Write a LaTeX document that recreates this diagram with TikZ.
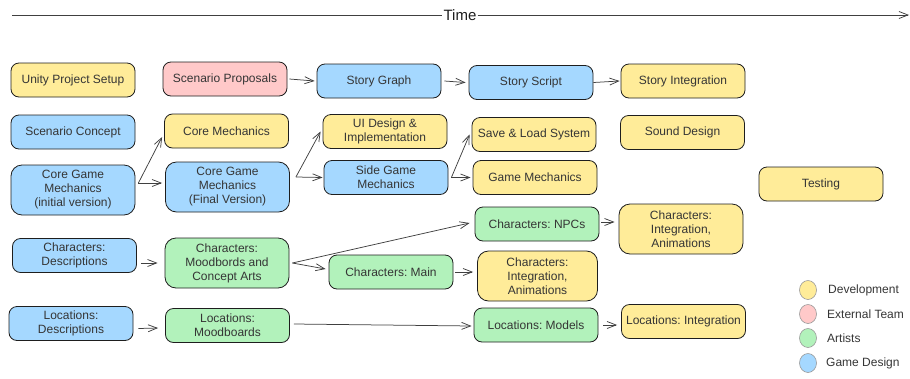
\documentclass[tikz,border=0pt]{standalone}
\usepackage{fontspec}
\setmainfont{Liberation Sans}
\usetikzlibrary{arrows.meta,shapes.geometric}
\frenchspacing

\definecolor{ink}{HTML}{1E1E1E}
\definecolor{devfill}{HTML}{FFEC99}
\definecolor{extfill}{HTML}{FFC9C9}
\definecolor{artfill}{HTML}{B2F2BB}
\definecolor{gdfill}{HTML}{A5D8FF}

\tikzset{
  task/.style={draw=ink, line width=0.8pt, rounded corners=8pt,
    minimum width=124pt, minimum height=34pt, inner sep=1pt,
    align=center, text=ink!90, font=\fontsize{12}{14}\selectfont},
  tall/.style={task, minimum height=50pt, rounded corners=11pt},
  dev/.style={fill=devfill},
  ext/.style={fill=extfill},
  art/.style={fill=artfill},
  gd/.style={fill=gdfill},
  link/.style={draw=ink!85, line width=0.75pt,
    -{Straight Barb[length=9pt,width=7pt,line width=0.75pt]}},
  swatch/.style={ellipse, draw=black!40, line width=0.6pt,
    minimum width=17pt, minimum height=19pt, inner sep=0pt},
  key/.style={anchor=west, text=ink!90, inner sep=0pt,
    font=\fontsize{12}{14}\selectfont},
}

\begin{document}
\begin{tikzpicture}[x=1pt, y=-1pt]
\useasboundingbox (0,0) rectangle (910,378);

% time axis
\node[text=ink, font=\fontsize{15}{18}\selectfont, inner sep=1pt] (time) at (460,15) {Time};
\coordinate (tstart) at (12,15);
\coordinate (tend) at (909,15);
\draw[ink!85, line width=0.75pt] (tstart) -- (time.west);
\draw[ink!85, line width=0.75pt, -{Straight Barb[length=9pt,width=7pt,line width=0.75pt]}] (time.east) -- (tend);

% first column
\node[task, dev] (unity)   at (73,80)    {Unity Project Setup};
\node[task, gd]  (concept) at (73,132)   {Scenario Concept};
\node[tall, gd]  (cgminit) at (73,190)   {Core Game\\Mechanics\\(initial version)};
\node[task, gd]  (chardesc) at (74.5,255.5) {Characters:\\Descriptions};
\node[task, gd]  (locdesc) at (71,323.5) {Locations:\\Descriptions};

% second column
\node[task, ext] (proposals) at (225,79)   {Scenario Proposals};
\node[task, dev] (coremech)  at (226.5,131) {Core Mechanics};
\node[tall, gd]  (cgmfinal)  at (227.5,187) {Core Game\\Mechanics\\(Final Version)};
\node[tall, art] (charmood)  at (227,263)   {Characters:\\Moodbords and\\Concept Arts};
\node[task, art] (locmood)   at (227.5,325.5) {Locations:\\Moodboards};

% third column
\node[task, gd]  (graph)    at (379,81)    {Story Graph};
\node[task, dev] (ui)       at (385,131.5) {UI Design \&\\Implementation};
\node[task, gd]  (side)     at (386,177.5) {Side Game\\Mechanics};
\node[task, art] (charmain) at (391,272)   {Characters: Main};

% fourth column
\node[task, gd]  (script)    at (531,82.5)  {Story Script};
\node[task, dev] (saveload)  at (534,134.5) {Save \& Load System};
\node[task, dev] (gamemech)  at (535,177.5) {Game Mechanics};
\node[task, art] (npcs)      at (537,224)   {Characters: NPCs};
\node[tall, dev, minimum width=120pt] (charint1) at (537.5,276) {Characters:\\Integration,\\Animations};
\node[task, art] (locmodels) at (536,325)   {Locations: Models};

% fifth column
\node[task, dev] (storyint) at (683,81)    {Story Integration};
\node[task, dev] (sound)    at (682.5,132.5) {Sound Design};
\node[tall, dev] (charint2) at (681,229)   {Characters:\\Integration,\\Animations};
\node[task, dev] (locint)   at (683.5,321.5) {Locations: Integration};

% last column
\node[task, dev] (testing) at (821,184) {Testing};

% story chain
\draw[link] ([xshift=2pt]proposals.east) -- ([xshift=-2pt]graph.west);
\draw[link] ([xshift=3pt]graph.east) -- ([xshift=-3pt]script.west);
\draw[link] (script.east) -- ([xshift=-1pt]storyint.west);

% mechanics branches
\coordinate (b1) at ([xshift=3pt,yshift=7pt]cgminit.east);
\draw[link] (b1) -- ([xshift=-2pt,yshift=-6pt]coremech.west);
\draw[link] (b1) -- ([xshift=-3pt,yshift=4pt]cgmfinal.west);

\coordinate (b2) at ([xshift=6pt,yshift=10pt]cgmfinal.east);
\draw[link] (b2) -- ([xshift=-2pt]ui.west);
\draw[link] (b2) -- ([xshift=-1pt]side.west);

\coordinate (b3) at ([xshift=3pt]side.east);
\draw[link] (b3) -- ([xshift=-2pt]saveload.west);
\draw[link] (b3) -- ([xshift=-2pt]gamemech.west);

% characters
\draw[link] ([xshift=4pt,yshift=-7.5pt]chardesc.east) -- ([xshift=-7pt]charmood.west);
\coordinate (b4) at ([xshift=3pt]charmood.east);
\draw[link] (b4) -- ([xshift=-5pt,yshift=1pt]npcs.west);
\draw[link] (b4) -- ([xshift=-3pt,yshift=3pt]charmain.west);
\draw[link] ([xshift=2pt]charmain.east) -- ([xshift=-4pt]charmain.east -| charint1.west);
\draw[link] ([xshift=2pt,yshift=2pt]npcs.east) -- ([xshift=-4pt,yshift=2pt]npcs.east -| charint2.west);

% locations
\draw[link] ([xshift=5pt,yshift=-5pt]locdesc.east) -- ([xshift=-7pt,yshift=-2.5pt]locmood.west);
\draw[link] ([xshift=4pt,yshift=1.5pt]locmood.east) -- ([xshift=-2pt,yshift=-1pt]locmodels.west);
\draw[link] ([xshift=5pt]locmodels.east) -- ([xshift=-4pt]locmodels.east -| locint.west);

% legend
\node[swatch, fill=devfill] (kdev) at (808,290) {};
\node[swatch, fill=extfill] (kext) at (808,314) {};
\node[swatch, fill=artfill] (kart) at (808,338) {};
\node[swatch, fill=gdfill]  (kgd)  at (808,363) {};
\node[key] (ldev) at (828,290) {Development};
\node[key] (lext) at (827,314) {External Team};
\node[key] (lart) at (827,338) {Artists};
\node[key] (lgd)  at (826,363) {Game Design};
\end{tikzpicture}
\end{document}
